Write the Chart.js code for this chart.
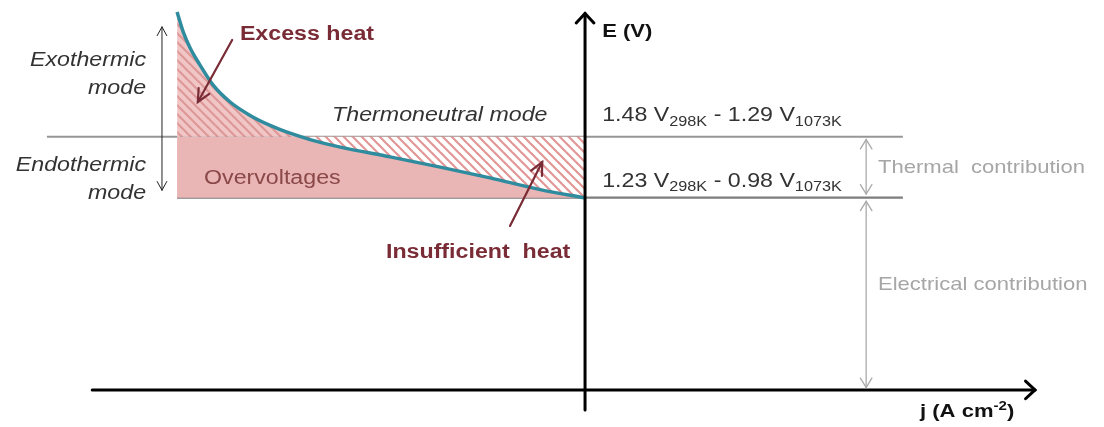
<!DOCTYPE html>
<html>
<head>
<meta charset="utf-8">
<script src="https://cdn.jsdelivr.net/npm/chart.js@4.4.1/dist/chart.umd.min.js"></script>
<style>
  html, body { margin: 0; background: #fff; }
  #wrap { width: 1104px; height: 427px; }
</style>
</head>
<body>
<div id="wrap"><canvas id="chart1" width="1104" height="427"></canvas></div>
<script>
// polarisation curve (j < 0 : electrolysis), E in V
const curveJ = [-1.0, -0.985, -0.968, -0.944, -0.912, -0.870, -0.821, -0.772, -0.723, -0.674, -0.600, -0.478, -0.355, -0.233, -0.110, 0];
const curveE = [1.991, 1.909, 1.843, 1.774, 1.692, 1.622, 1.567, 1.526, 1.494, 1.468, 1.437, 1.397, 1.355, 1.311, 1.263, 1.229];

const thermoneutralE = 1.48;   // 1.48 V at 298K
const reversibleE = 1.23;      // 1.23 V at 298K
const axisE = 0.442;           // where the j axis crosses
const lineEndJ = 0.779;        // right end of the two horizontal lines
const thermoStartJ = -1.319;   // left end of thermoneutral line

const labelTop = [['1.48 V'], ['298K', 1], [' - 1.29 V'], ['1073K', 1]];
const labelBottom = [['1.23 V'], ['298K', 1], [' - 0.98 V'], ['1073K', 1]];
const jTitle = [['j (A cm'], ['-2', 2], [')']];

const teal = '#2f8c9e';
const darkRed = '#7a2c36';
const pink = 'rgb(233,181,181)';
const FONT = '"Liberation Sans", Arial';
const STRETCH = 1.16;   // the original lettering is a bit wide

function hatch(bg, stripe) {
  const c = document.createElement('canvas');
  c.width = 9; c.height = 9;
  const g = c.getContext('2d');
  g.fillStyle = bg;
  g.fillRect(0, 0, 9, 9);
  g.strokeStyle = stripe;
  g.lineWidth = 2.2;
  for (let o = -9; o <= 9; o += 9) {
    g.beginPath();
    g.moveTo(o - 1, -1);
    g.lineTo(o + 10, 10);
    g.stroke();
  }
  return g.createPattern(c, 'repeat');
}
const excessFill = hatch('rgb(240,198,198)', 'rgb(222,152,152)');
const lackFill = hatch('#ffffff', 'rgb(226,150,150)');

const pts = (js, es) => js.map((j, i) => ({ x: j, y: es[i] }));

function head(ctx, x, y, ang, size, spread) {
  ctx.beginPath();
  ctx.moveTo(x - size * Math.cos(ang - spread), y - size * Math.sin(ang - spread));
  ctx.lineTo(x, y);
  ctx.lineTo(x - size * Math.cos(ang + spread), y - size * Math.sin(ang + spread));
  ctx.stroke();
}

function arrow(ctx, x1, y1, x2, y2, color, w, size, spread, both) {
  ctx.strokeStyle = color;
  ctx.lineWidth = w;
  ctx.beginPath();
  ctx.moveTo(x1, y1);
  ctx.lineTo(x2, y2);
  ctx.stroke();
  const a = Math.atan2(y2 - y1, x2 - x1);
  head(ctx, x2, y2, a, size, spread);
  if (both) head(ctx, x1, y1, a + Math.PI, size, spread);
}

function text(ctx, str, x, y, font, color, align) {
  ctx.save();
  ctx.translate(x, y);
  ctx.scale(STRETCH, 1);
  ctx.font = font;
  ctx.fillStyle = color;
  ctx.textAlign = align || 'left';
  ctx.textBaseline = 'middle';
  ctx.fillText(str, 0, 0);
  ctx.restore();
}

// sub = 1 -> subscript, sub = 2 -> superscript
function rich(ctx, parts, x, y, size, color, bold) {
  ctx.save();
  ctx.translate(x, y);
  ctx.scale(STRETCH, 1);
  ctx.fillStyle = color;
  ctx.textBaseline = 'middle';
  ctx.textAlign = 'left';
  let cx = 0;
  for (const [t, sub] of parts) {
    ctx.font = (bold ? 'bold ' : '') + (sub ? Math.round(size * 0.68) : size) + 'px ' + FONT;
    const dy = sub === 1 ? size * 0.3 : sub === 2 ? -size * 0.3 : 0;
    ctx.fillText(t, cx, dy);
    cx += ctx.measureText(t).width;
  }
  ctx.restore();
}

const sketch = {
  id: 'sketch',
  afterDatasetsDraw(chart) {
    const ctx = chart.ctx;
    const X = v => chart.scales.x.getPixelForValue(v);
    const Y = v => chart.scales.y.getPixelForValue(v);
    ctx.save();
    ctx.lineCap = 'round';

    // axes
    arrow(ctx, X(-1.208), Y(axisE), X(1.103), Y(axisE), '#000', 3, 13, 0.75);
    arrow(ctx, X(0), Y(0.36), X(0), Y(1.985), '#000', 3, 13, 0.75);

    // exo / endo arrow
    arrow(ctx, X(-1.037), Y(1.26), X(-1.037), Y(1.93), '#222', 1, 10, 0.5, true);

    // thermal / electrical contributions
    arrow(ctx, X(0.689), Y(1.245), X(0.689), Y(1.468), '#aaa', 1.3, 11, 0.55, true);
    arrow(ctx, X(0.689), Y(axisE + 0.01), X(0.689), Y(1.215), '#aaa', 1.3, 11, 0.55, true);

    // pointers
    arrow(ctx, X(-0.865), Y(1.876), X(-0.949), Y(1.622), darkRed, 2.2, 14, 0.45);
    arrow(ctx, X(-0.184), Y(1.114), X(-0.105), Y(1.376), darkRed, 2.2, 14, 0.45);

    // texts
    text(ctx, 'E (V)', X(0.042), Y(1.909), 'bold 19px ' + FONT, '#111');
    rich(ctx, jTitle, X(0.821), Y(0.351), 19, '#111', true);

    text(ctx, 'Excess heat', X(-0.846), Y(1.897), 'bold 20px ' + FONT, darkRed);
    text(ctx, 'Insufficient  heat', X(-0.488), Y(1.007), 'bold 20px ' + FONT, darkRed);

    text(ctx, 'Overvoltages', X(-0.934), Y(1.31), '20px ' + FONT, '#8a4848');

    const it = 'italic 20px ' + FONT;
    text(ctx, 'Thermoneutral mode', X(-0.62), Y(1.565), it, '#333');
    text(ctx, 'Exothermic', X(-1.076), Y(1.794), it, '#333', 'right');
    text(ctx, 'mode', X(-1.076), Y(1.679), it, '#333', 'right');
    text(ctx, 'Endothermic', X(-1.076), Y(1.36), it, '#333', 'right');
    text(ctx, 'mode', X(-1.076), Y(1.249), it, '#333', 'right');

    rich(ctx, labelTop, X(0.042), Y(1.565), 20, '#333');
    rich(ctx, labelBottom, X(0.042), Y(1.298), 20, '#333');

    text(ctx, 'Thermal  contribution', X(0.718), Y(1.351), '19px ' + FONT, '#a6a6a6');
    text(ctx, 'Electrical contribution', X(0.718), Y(0.872), '19px ' + FONT, '#a6a6a6');
    ctx.restore();
  }
};

new Chart(document.getElementById('chart1'), {
  type: 'line',
  data: {
    datasets: [
      {
        label: 'curve',
        data: pts(curveJ, curveE),
        borderColor: teal,
        borderWidth: 3.5,
        pointRadius: 0,
        cubicInterpolationMode: 'monotone',
        fill: { target: { value: thermoneutralE }, above: excessFill, below: lackFill }
      },
      {
        label: 'overvoltages',
        data: pts([-1, 0], [thermoneutralE, thermoneutralE]),
        borderWidth: 0,
        pointRadius: 0,
        backgroundColor: pink,
        fill: { value: reversibleE }
      },
      {
        label: 'thermoneutral',
        data: pts([thermoStartJ, lineEndJ], [thermoneutralE, thermoneutralE]),
        borderColor: 'rgb(150,150,150)',
        borderWidth: 2,
        pointRadius: 0,
        fill: false
      },
      {
        label: 'reversible',
        data: pts([-1, lineEndJ], [reversibleE, reversibleE]),
        borderColor: 'rgb(125,125,125)',
        borderWidth: 2.2,
        pointRadius: 0,
        fill: false
      }
    ]
  },
  options: {
    responsive: false,
    animation: false,
    layout: { padding: 0 },
    plugins: { legend: { display: false }, tooltip: { enabled: false } },
    scales: {
      x: { type: 'linear', display: false, min: -1.434, max: 1.272 },
      y: { type: 'linear', display: false, min: 0.29, max: 2.04 }
    }
  },
  plugins: [sketch]
});
</script>
</body>
</html>
